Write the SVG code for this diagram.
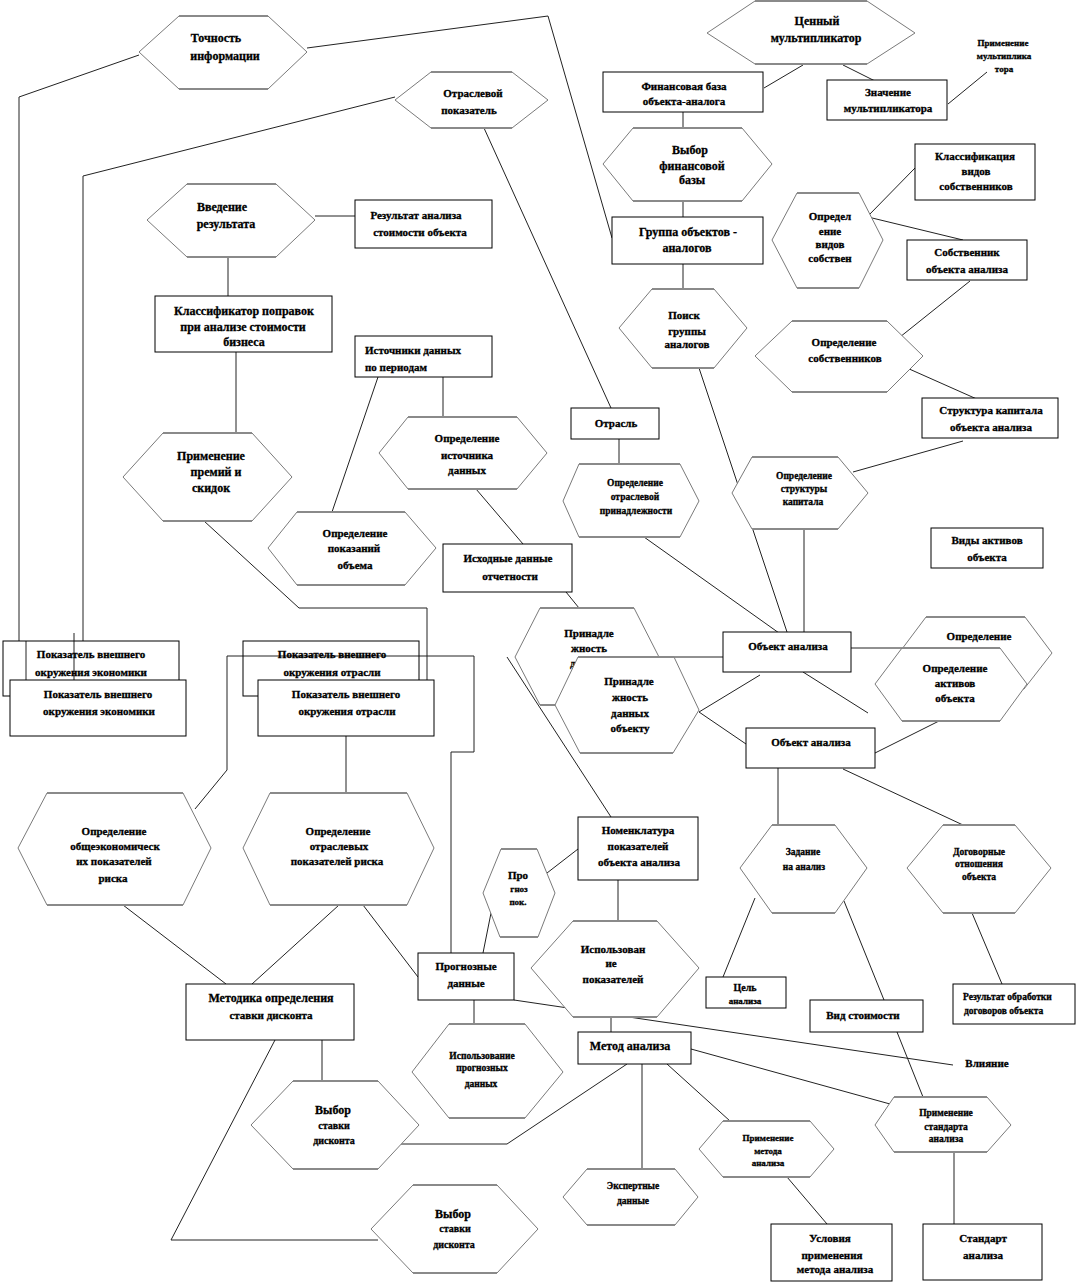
<svg xmlns="http://www.w3.org/2000/svg" width="1078" height="1284" viewBox="0 0 1078 1284">
<style>
.c{fill:none;stroke:#222;stroke-width:1}
.hx{fill:#fff;stroke:#7a7a7a;stroke-width:1}
.hb{fill:none;stroke:#8a8a8a;stroke-width:2.2}
.bx{fill:#fff;stroke:#000;stroke-width:1}
.bk{fill:none;stroke:#000;stroke-width:1}
text{font-family:"Liberation Serif","Times New Roman",serif;font-weight:bold;text-anchor:middle;fill:#000;stroke:#000;stroke-width:0.3}
.s12{font-size:12px}.s11{font-size:11px}.s10{font-size:10px}.s9{font-size:9.5px}.s8{font-size:9px}
.st{text-anchor:start}
</style>
<rect width="1078" height="1284" fill="#fff"/>
<g id="connectors">
<polyline class="c" points="139,55 19,97 19,641"/>
<polyline class="c" points="307,48 548,16 612,238"/>
<polyline class="c" points="395,97 83,176 83,641"/>
<line class="c" x1="26" y1="641" x2="26" y2="680"/>
<line class="c" x1="74" y1="633" x2="74" y2="680"/>
<line class="c" x1="315" y1="216" x2="355" y2="216"/>
<line class="c" x1="228" y1="257" x2="228" y2="296"/>
<line class="c" x1="236" y1="352" x2="236" y2="433"/>
<polyline class="c" points="204,521 299,608 427,608 427,680"/>
<line class="c" x1="378" y1="377" x2="332" y2="512"/>
<line class="c" x1="443" y1="377" x2="443" y2="417"/>
<line class="c" x1="476" y1="489" x2="523" y2="544"/>
<line class="c" x1="566" y1="592" x2="579" y2="608"/>
<line class="c" x1="484" y1="128" x2="611" y2="408"/>
<line class="c" x1="619" y1="439" x2="619" y2="465"/>
<line class="c" x1="644" y1="537" x2="779" y2="633"/>
<line class="c" x1="699" y1="368" x2="787" y2="632"/>
<line class="c" x1="804" y1="529" x2="804" y2="632"/>
<line class="c" x1="683" y1="112" x2="683" y2="128"/>
<line class="c" x1="683" y1="201" x2="683" y2="217"/>
<line class="c" x1="683" y1="264" x2="683" y2="290"/>
<line class="c" x1="764" y1="88" x2="803" y2="65"/>
<line class="c" x1="843" y1="65" x2="875" y2="81"/>
<line class="c" x1="948" y1="104" x2="987" y2="72"/>
<line class="c" x1="868" y1="216" x2="915" y2="168"/>
<line class="c" x1="868" y1="217" x2="963" y2="240"/>
<line class="c" x1="970" y1="281" x2="900" y2="337"/>
<line class="c" x1="907" y1="368" x2="979" y2="400"/>
<line class="c" x1="963" y1="441" x2="853" y2="472"/>
<line class="c" x1="851" y1="648" x2="902" y2="648"/>
<line class="c" x1="803" y1="672" x2="868" y2="713"/>
<line class="c" x1="723" y1="657" x2="659" y2="657"/>
<line class="c" x1="699" y1="712" x2="760" y2="675"/>
<line class="c" x1="699" y1="712" x2="746" y2="744"/>
<line class="c" x1="875" y1="753" x2="939" y2="721"/>
<line class="c" x1="778" y1="768" x2="778" y2="825"/>
<line class="c" x1="843" y1="769" x2="963" y2="825"/>
<line class="c" x1="972" y1="913" x2="1002" y2="984"/>
<line class="c" x1="755" y1="898" x2="723" y2="977"/>
<line class="c" x1="844" y1="901" x2="884" y2="1000"/>
<line class="c" x1="897" y1="1032" x2="923" y2="1097"/>
<line class="c" x1="954" y1="1152" x2="954" y2="1224"/>
<line class="c" x1="514" y1="1000" x2="953" y2="1065"/>
<line class="c" x1="611" y1="1017" x2="611" y2="1032"/>
<line class="c" x1="691" y1="1049" x2="890" y2="1104"/>
<line class="c" x1="667" y1="1064" x2="730" y2="1121"/>
<line class="c" x1="787" y1="1177" x2="827" y2="1224"/>
<line class="c" x1="642" y1="1064" x2="642" y2="1169"/>
<polyline class="c" points="627,1064 507,1144 401,1144"/>
<line class="c" x1="322" y1="1040" x2="322" y2="1081"/>
<polyline class="c" points="275,1040 171,1240 378,1240"/>
<line class="c" x1="123" y1="905" x2="226" y2="984"/>
<line class="c" x1="339" y1="905" x2="252" y2="984"/>
<line class="c" x1="363" y1="905" x2="418" y2="977"/>
<line class="c" x1="346" y1="736" x2="346" y2="793"/>
<polyline class="c" points="195,809 227,770 227,656 474,656 474,752 451,752 451,953"/>
<line class="c" x1="507" y1="657" x2="611" y2="817"/>
<line class="c" x1="578" y1="849" x2="547" y2="873"/>
<line class="c" x1="491" y1="913" x2="483" y2="953"/>
<line class="c" x1="618" y1="880" x2="618" y2="921"/>
<line class="c" x1="474" y1="1000" x2="474" y2="1024"/>
</g>

<g id="n-tochnost"><polygon class="hx" points="139,52 179,16 268,16 307,52 268,89 179,89"/><path class="hb" d="M179 16H268M179 89H268"/><text class="s12" x="216" y="42">Точность</text><text class="s12" x="225" y="60">информации</text></g>
<g id="n-otr-pok"><polygon class="hx" points="395,100 431,72 512,72 548,100 512,128 431,128"/><path class="hb" d="M431 72H512M431 128H512"/><text class="s11" x="473" y="97">Отраслевой</text><text class="s11" x="469" y="114">показатель</text></g>
<g id="n-vvedenie"><polygon class="hx" points="147,220 187,184 276,184 315,220 276,257 187,257"/><path class="hb" d="M187 184H276M187 257H276"/><text class="s12" x="222" y="211">Введение</text><text class="s12" x="226" y="228">результата</text></g>
<g id="n-rezultat"><rect class="bx" x="355" y="200" width="137" height="48"/><text class="s11" x="416" y="219">Результат  анализа</text><text class="s11" x="420" y="236">стоимости объекта</text></g>
<g id="n-klass-popr"><rect class="bx" x="155" y="296" width="177" height="56"/><text class="s12" x="244" y="315">Классификатор поправок</text><text class="s12" x="243" y="331">при анализе  стоимости</text><text class="s12" x="244" y="346">бизнеса</text></g>
<g id="n-premii"><polygon class="hx" points="123,477 163,433 252,433 292,477 252,521 163,521"/><path class="hb" d="M163 433H252M163 521H252"/><text class="s12" x="211" y="460">Применение</text><text class="s12" x="216" y="476">премий и</text><text class="s12" x="211" y="492">скидок</text></g>
<g id="n-istochniki"><rect class="bx" x="355" y="336" width="137" height="41"/><text class="s11 st" x="365" y="354">Источники  данных</text><text class="s11 st" x="365" y="371">по периодам</text></g>
<g id="n-opr-ist"><polygon class="hx" points="379,453 408,417 517,417 547,453 517,489 408,489"/><path class="hb" d="M408 417H517M408 489H517"/><text class="s11" x="467" y="442">Определение</text><text class="s11" x="467" y="459">источника</text><text class="s11" x="467" y="474">данных</text></g>
<g id="n-opr-pok-ob"><polygon class="hx" points="268,548 297,512 405,512 436,548 405,585 297,585"/><path class="hb" d="M297 512H405M297 585H405"/><text class="s11" x="355" y="537">Определение</text><text class="s11" x="354" y="552">показаний</text><text class="s11" x="355" y="569">объема</text></g>
<g id="n-ishodnye"><rect class="bx" x="443" y="544" width="129" height="48"/><text class="s11" x="508" y="562">Исходные  данные</text><text class="s11" x="510" y="580">отчетности</text></g>
<g id="n-otrasl"><rect class="bx" x="571" y="408" width="88" height="31"/><text class="s11" x="616" y="427">Отрасль</text></g>
<g id="n-opr-otr-pr"><polygon class="hx" points="563,501 579,464 680,464 699,501 680,537 579,537"/><path class="hb" d="M579 464H680M579 537H680"/><text class="s9" x="635" y="486">Определение</text><text class="s9" x="635" y="500">отраслевой</text><text class="s9" x="636" y="514">принадлежности</text></g>
<g id="n-fin-baza"><rect class="bx" x="603" y="72" width="160" height="40"/><text class="s11" x="684" y="90">Финансовая  база</text><text class="s11" x="684" y="105">объекта-аналога</text></g>
<g id="n-vybor-fin"><polygon class="hx" points="603,164 633,128 742,128 772,164 742,201 633,201"/><path class="hb" d="M633 128H742M633 201H742"/><text class="s12" x="690" y="154">Выбор</text><text class="s12" x="692" y="170">финансовой</text><text class="s12" x="692" y="184">базы</text></g>
<g id="n-gruppa"><rect class="bx" x="612" y="217" width="151" height="47"/><text class="s12" x="688" y="236">Группа объектов -</text><text class="s12" x="687" y="252">аналогов</text></g>
<g id="n-poisk"><polygon class="hx" points="619,328 652,289 714,289 747,328 714,368 652,368"/><path class="hb" d="M652 289H714M652 368H714"/><text class="s11" x="684" y="319">Поиск</text><text class="s11" x="687" y="335">группы</text><text class="s11" x="687" y="348">аналогов</text></g>
<g id="n-cenny"><polygon class="hx" points="707,33 755,1 867,1 915,33 867,64 755,64"/><path class="hb" d="M755 1H867M755 64H867"/><text class="s12" x="817" y="25">Ценный</text><text class="s12" x="816" y="42">мультипликатор</text></g>
<g id="n-znachenie"><rect class="bx" x="827" y="80" width="120" height="40"/><text class="s11" x="888" y="96">Значение</text><text class="s11" x="888" y="112">мультипликатора</text></g>
<g id="n-prim-mult"><text class="s8" x="1003" y="46">Применение</text><text class="s8" x="1004" y="59">мультиплика</text><text class="s8" x="1004" y="72">тора</text></g>
<g id="n-opr-vidov"><polygon class="hx" points="772,240 797,193 859,193 883,240 859,288 797,288"/><path class="hb" d="M797 193H859M797 288H859"/><text class="s11" x="830" y="220">Определ</text><text class="s11" x="830" y="235">ение</text><text class="s11" x="830" y="248">видов</text><text class="s11" x="830" y="262">собствен</text></g>
<g id="n-klass-vid"><rect class="bx" x="915" y="144" width="120" height="56"/><text class="s11" x="975" y="160">Классификация</text><text class="s11" x="976" y="175">видов</text><text class="s11" x="976" y="190">собственников</text></g>
<g id="n-sobstv"><rect class="bx" x="907" y="240" width="120" height="40"/><text class="s11" x="967" y="256">Собственник</text><text class="s11" x="967" y="273">объекта анализа</text></g>
<g id="n-opr-sobstv"><polygon class="hx" points="755,356 792,321 887,321 923,356 887,392 792,392"/><path class="hb" d="M792 321H887M792 392H887"/><text class="s11" x="844" y="346">Определение</text><text class="s11" x="845" y="362">собственников</text></g>
<g id="n-struktura"><rect class="bx" x="922" y="398" width="136" height="40"/><text class="s11" x="991" y="414">Структура капитала</text><text class="s11" x="991" y="431">объекта анализа</text></g>
<g id="n-opr-strukt"><polygon class="hx" points="732,493 752,457 838,457 868,493 838,529 752,529"/><path class="hb" d="M752 457H838M752 529H838"/><text class="s9" x="804" y="479">Определение</text><text class="s9" x="804" y="492">структуры</text><text class="s9" x="803" y="505">капитала</text></g>
<g id="n-vidy-akt"><rect class="bx" x="931" y="528" width="112" height="40"/><text class="s11" x="987" y="544">Виды активов</text><text class="s11" x="987" y="561">объекта</text></g>
<g id="n-opr-akt-back"><polygon class="hx" points="899,653 926,617 1025,617 1052,653 1024,689 927,689"/><path class="hb" d="M926 617H1025"/><text class="s11" x="979" y="640">Определение</text><text class="s11" x="979" y="655">активов</text></g>
<g id="n-opr-akt"><polygon class="hx" points="875,684 902,648 1000,648 1027,684 1000,721 902,721"/><path class="hb" d="M902 648H1000M902 721H1000"/><text class="s11" x="955" y="672">Определение</text><text class="s11" x="955" y="687">активов</text><text class="s11" x="955" y="702">объекта</text></g>
<g id="n-obj1"><rect class="bx" x="723" y="632" width="128" height="40"/><text class="s11" x="788" y="650">Объект  анализа</text></g>
<g id="n-obj2"><rect class="bx" x="746" y="728" width="129" height="40"/><text class="s11" x="811" y="746">Объект  анализа</text></g>
<g id="n-zadanie"><polygon class="hx" points="740,868 772,825 835,825 867,868 835,913 772,913"/><path class="hb" d="M772 825H835M772 913H835"/><text class="s9" x="803" y="855">Задание</text><text class="s9" x="804" y="870">на анализ</text></g>
<g id="n-dogovor"><polygon class="hx" points="907,868 943,825 1015,825 1051,868 1015,913 943,913"/><path class="hb" d="M943 825H1015M943 913H1015"/><text class="s9" x="979" y="855">Договорные</text><text class="s9" x="979" y="867">отношения</text><text class="s9" x="979" y="880">объекта</text></g>
<g id="n-rez-obr"><rect class="bx" x="953" y="984" width="122" height="40"/><text class="s9 st" x="963" y="1000">Результат обработки</text><text class="s9 st" x="964" y="1014">договоров объекта</text></g>
<g id="n-cel"><rect class="bx" x="706" y="977" width="80" height="31"/><text class="s10" x="745" y="991">Цель</text><text class="s8" x="745" y="1004">анализа</text></g>
<g id="n-vid-st"><rect class="bx" x="810" y="1000" width="113" height="32"/><text class="s11" x="863" y="1019">Вид  стоимости</text></g>
<g id="n-vliyanie"><text class="s11" x="987" y="1067">Влияние</text></g>
<g id="n-prim-std"><polygon class="hx" points="875,1125 894,1097 987,1097 1011,1125 987,1152 894,1152"/><path class="hb" d="M894 1097H987M894 1152H987"/><text class="s9" x="946" y="1116">Применение</text><text class="s9" x="946" y="1130">стандарта</text><text class="s9" x="946" y="1142">анализа</text></g>
<g id="n-standart"><rect class="bx" x="923" y="1224" width="119" height="56"/><text class="s11" x="983" y="1242">Стандарт</text><text class="s11" x="983" y="1259">анализа</text></g>
<g id="n-prim-met"><polygon class="hx" points="699,1149 723,1121 810,1121 834,1149 810,1177 723,1177"/><path class="hb" d="M723 1121H810M723 1177H810"/><text class="s8" x="768" y="1141">Применение</text><text class="s8" x="768" y="1154">метода</text><text class="s8" x="768" y="1166">анализа</text></g>
<g id="n-usloviya"><rect class="bx" x="771" y="1224" width="121" height="57"/><text class="s11" x="830" y="1242">Условия</text><text class="s11" x="832" y="1259">применения</text><text class="s11" x="835" y="1273">метода анализа</text></g>
<g id="n-ekspert"><polygon class="hx" points="563,1197 587,1169 675,1169 698,1197 675,1225 587,1225"/><path class="hb" d="M587 1169H675M587 1225H675"/><text class="s9" x="633" y="1189">Экспертные</text><text class="s9" x="633" y="1204">данные</text></g>
<g id="n-metod"><rect class="bx" x="578" y="1032" width="113" height="32"/><text class="s12" x="630" y="1050">Метод анализа</text></g>
<g id="n-isp-progn"><polygon class="hx" points="412,1072 449,1024 525,1024 563,1072 525,1118 449,1118"/><path class="hb" d="M449 1024H525M449 1118H525"/><text class="s9" x="482" y="1059">Использование</text><text class="s9" x="482" y="1071">прогнозных</text><text class="s9" x="481" y="1087">данных</text></g>
<g id="n-vybor-st2"><polygon class="hx" points="371,1229 413,1185 497,1185 538,1229 497,1273 413,1273"/><path class="hb" d="M413 1185H497M413 1273H497"/><text class="s12" x="453" y="1218">Выбор</text><text class="s10" x="455" y="1232">ставки</text><text class="s10" x="454" y="1248">дисконта</text></g>
<g id="n-vybor-st1"><polygon class="hx" points="251,1125 293,1081 378,1081 419,1125 378,1169 293,1169"/><path class="hb" d="M293 1081H378M293 1169H378"/><text class="s12" x="333" y="1114">Выбор</text><text class="s10" x="334" y="1129">ставки</text><text class="s10" x="334" y="1144">дисконта</text></g>
<g id="n-metodika"><rect class="bx" x="186" y="984" width="168" height="56"/><text class="s12" x="271" y="1002">Методика  определения</text><text class="s11" x="271" y="1019">ставки  дисконта</text></g>
<g id="n-progn-dan"><rect class="bx" x="418" y="953" width="96" height="47"/><text class="s11" x="466" y="970">Прогнозные</text><text class="s11" x="466" y="987">данные</text></g>
<g id="n-isp-pok"><polygon class="hx" points="531,968 573,921 657,921 699,968 657,1017 573,1017"/><path class="hb" d="M573 921H657M573 1017H657"/><text class="s11" x="613" y="953">Использован</text><text class="s11" x="611" y="967">ие</text><text class="s11" x="613" y="983">показателей</text></g>
<g id="n-nomenkl"><rect class="bx" x="578" y="817" width="120" height="63"/><text class="s11" x="638" y="834">Номенклатура</text><text class="s11" x="638" y="850">показателей</text><text class="s11" x="639" y="866">объекта анализа</text></g>
<g id="n-prognoz"><polygon class="hx" points="483,893 501,849 537,849 555,893 538,937 500,937"/><path class="hb" d="M501 849H537M500 937H538"/><text class="s11" x="518" y="879">Про</text><text class="s8" x="519" y="892">гноз</text><text class="s8" x="518" y="905">пок.</text></g>
<g id="n-prinadl-back"><polygon class="hx" points="515,657 540,608 634,608 659,657 634,705 540,705"/><path class="hb" d="M540 608H634M540 705H634"/><text class="s11" x="589" y="637">Принадле</text><text class="s11" x="589" y="652">жность</text><text class="s11" x="589" y="667">данных</text></g>
<g id="n-prinadl"><polygon class="hx" points="555,705 578,657 674,657 699,710 673,753 580,753"/><path class="hb" d="M578 657H674M580 753H673"/><text class="s11" x="629" y="685">Принадле</text><text class="s11" x="630" y="701">жность</text><text class="s11" x="630" y="717">данных</text><text class="s11" x="630" y="732">объекту</text></g>
<g id="n-opr-obsh"><polygon class="hx" points="18,848 47,793 183,793 211,848 183,905 47,905"/><path class="hb" d="M47 793H183M47 905H183"/><text class="s11" x="114" y="835">Определение</text><text class="s11" x="115" y="850">общеэкономическ</text><text class="s11" x="114" y="865">их показателей</text><text class="s11" x="113" y="882">риска</text></g>
<g id="n-opr-otr-risk"><polygon class="hx" points="243,848 270,793 407,793 434,848 407,905 270,905"/><path class="hb" d="M270 793H407M270 905H407"/><text class="s11" x="338" y="835">Определение</text><text class="s11" x="339" y="850">отраслевых</text><text class="s11" x="337" y="865">показателей риска</text></g>
<g id="n-pok-ek-back"><rect class="bk" x="3" y="641" width="176" height="55"/><text class="s11" x="91" y="658">Показатель  внешнего</text><text class="s11" x="91" y="676">окружения экономики</text></g>
<g id="n-pok-ek"><rect class="bx" x="10" y="680" width="176" height="56"/><text class="s11" x="98" y="698">Показатель  внешнего</text><text class="s11" x="99" y="715">окружения экономики</text></g>
<g id="n-pok-otr-back"><rect class="bk" x="243" y="641" width="176" height="55"/><text class="s11" x="332" y="658">Показатель  внешнего</text><text class="s11" x="332" y="676">окружения отрасли</text></g>
<g id="n-pok-otr"><rect class="bx" x="258" y="680" width="176" height="56"/><text class="s11" x="346" y="698">Показатель  внешнего</text><text class="s11" x="347" y="715">окружения отрасли</text></g>
</svg>
